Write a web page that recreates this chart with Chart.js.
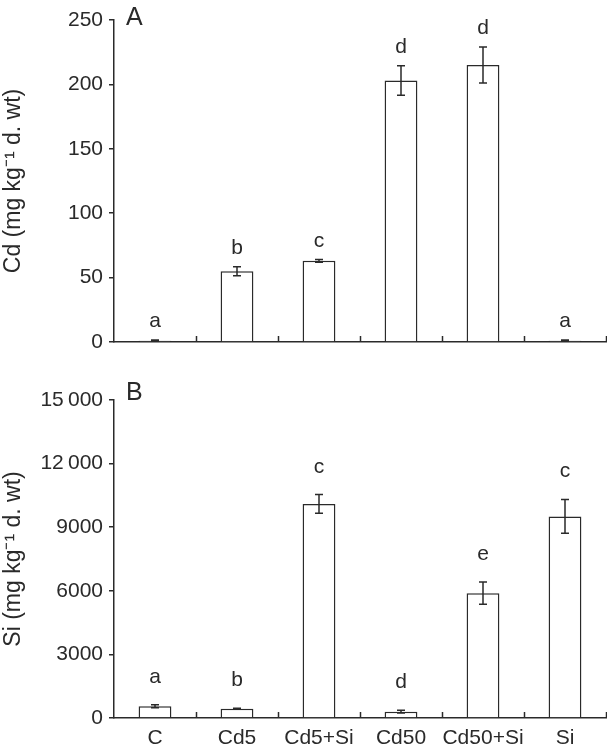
<!DOCTYPE html>
<html>
<head>
<meta charset="utf-8">
<script src="https://cdn.jsdelivr.net/npm/chart.js@4"></script>
<style>
  body { margin: 0; background: #fff; }
  #wrap { position: relative; width: 607px; height: 750px; }
  canvas { position: absolute; left: 0; }
  #chartA { top: 0; }
  #chartB { top: 375px; }
</style>
</head>
<body>
<div id="wrap">
  <canvas id="chartA" width="607" height="375"></canvas>
  <canvas id="chartB" width="607" height="375"></canvas>
</div>
<script>
// treatments
const categories = ["C", "Cd5", "Cd5+Si", "Cd50", "Cd50+Si", "Si"];

// panel A - Cd content
const cdMean = [1, 55, 63, 203, 215, 1];
const cdErr = [0.5, 3.5, 1, 11.5, 14, 0.5];
const cdLetters = ["a", "b", "c", "d", "d", "a"];

// panel B - Si content
const siMean = [550, 440, 10100, 300, 5890, 9510];
const siErr = [70, 20, 440, 70, 525, 800];
const siLetters = ["a", "b", "c", "d", "e", "c"];

const INK = "#2a2a2a";
const FONT = "'Liberation Sans', Arial, sans-serif";

// error bars, significance letters, panel label and inward x ticks
const extras = {
    id: "extras",
    afterDatasetsDraw(chart, args, opts) {
        const ctx = chart.ctx;
        const xs = chart.scales.x;
        const ys = chart.scales.y;
        const area = chart.chartArea;
        const meta = chart.getDatasetMeta(0);

        ctx.save();
        ctx.strokeStyle = INK;
        ctx.lineWidth = 1.5;

        // boundary ticks pointing up
        for (let i = 1; i <= categories.length; i++) {
            const x = Math.round(xs.getPixelForValue(i - 0.5)) + 0.5;
            ctx.beginPath();
            ctx.moveTo(x, area.bottom);
            ctx.lineTo(x, area.bottom - 6);
            ctx.stroke();
        }

        ctx.fillStyle = INK;
        ctx.font = "21px " + FONT;
        ctx.textAlign = "center";
        ctx.textBaseline = "alphabetic";

        meta.data.forEach((bar, i) => {
            const m = opts.mean[i], e = opts.err[i];
            const yTop = ys.getPixelForValue(m + e);
            const yBot = ys.getPixelForValue(m - e);
            const x = bar.x;
            ctx.beginPath();
            ctx.moveTo(x, yTop);
            ctx.lineTo(x, yBot);
            ctx.moveTo(x - 4, yTop);
            ctx.lineTo(x + 4, yTop);
            ctx.moveTo(x - 4, yBot);
            ctx.lineTo(x + 4, yBot);
            ctx.stroke();
            ctx.fillText(opts.letters[i], x, Math.min(yTop, bar.y) - opts.gap);
        });

        ctx.font = "25px " + FONT;
        ctx.textAlign = "left";
        ctx.fillText(opts.panel, area.left + 12, area.top + opts.panelShift);
        ctx.restore();
    }
};

function thinThousands(v) {
    if (v >= 10000) {
        const s = String(v);
        return s.slice(0, s.length - 3) + "\u2009" + s.slice(-3);
    }
    return String(v);
}

function makeChart(id, mean, err, letters, opt) {
    const ctx = document.getElementById(id).getContext("2d");
    return new Chart(ctx, {
        type: "bar",
        data: {
            labels: categories,
            datasets: [{
                data: mean,
                backgroundColor: "#ffffff",
                borderColor: INK,
                borderWidth: 1.5,
                barPercentage: 0.4,
                categoryPercentage: 1.0
            }]
        },
        options: {
            responsive: false,
            animation: false,
            devicePixelRatio: 1,
            layout: { padding: { top: opt.top, right: 1, left: 0, bottom: 0 } },
            plugins: {
                legend: { display: false },
                tooltip: { enabled: false },
                extras: { mean: mean, err: err, letters: letters, gap: opt.gap, panel: opt.panel, panelShift: opt.panelShift }
            },
            scales: {
                x: {
                    offset: true,
                    grid: { display: false, drawTicks: false },
                    border: { display: true, color: INK, width: 1.5 },
                    ticks: {
                        display: opt.showX,
                        autoSkip: false,
                        color: INK,
                        padding: 8,
                        font: { family: FONT, size: 21 },
                        maxRotation: 0,
                        minRotation: 0
                    },
                    afterFit: s => { s.height = opt.xHeight; }
                },
                y: {
                    min: 0,
                    max: opt.max,
                    border: { display: true, color: INK, width: 1.5 },
                    grid: { drawOnChartArea: false, drawTicks: true, tickLength: 5, color: INK, lineWidth: 1.5 },
                    ticks: {
                        stepSize: opt.step,
                        color: INK,
                        padding: 6,
                        font: { family: FONT, size: 21 },
                        callback: v => thinThousands(v)
                    },
                    title: {
                        display: true,
                        text: opt.title,
                        color: INK,
                        font: { family: FONT, size: 23 },
                        padding: { top: 0, bottom: 2 }
                    },
                    afterFit: s => { s.width = 114; }
                }
            }
        },
        plugins: [extras]
    });
}

makeChart("chartA", cdMean, cdErr, cdLetters, {
    max: 250, step: 50, top: 20, xHeight: 33, showX: false,
    title: "Cd (mg kg\u207B\u00B9 d. wt)", gap: 13, panel: "A", panelShift: 5
});

makeChart("chartB", siMean, siErr, siLetters, {
    max: 15000, step: 3000, top: 25, xHeight: 32, showX: true,
    title: "Si (mg kg\u207B\u00B9 d. wt)", gap: 22, panel: "B", panelShift: 0
});
</script>
</body>
</html>
